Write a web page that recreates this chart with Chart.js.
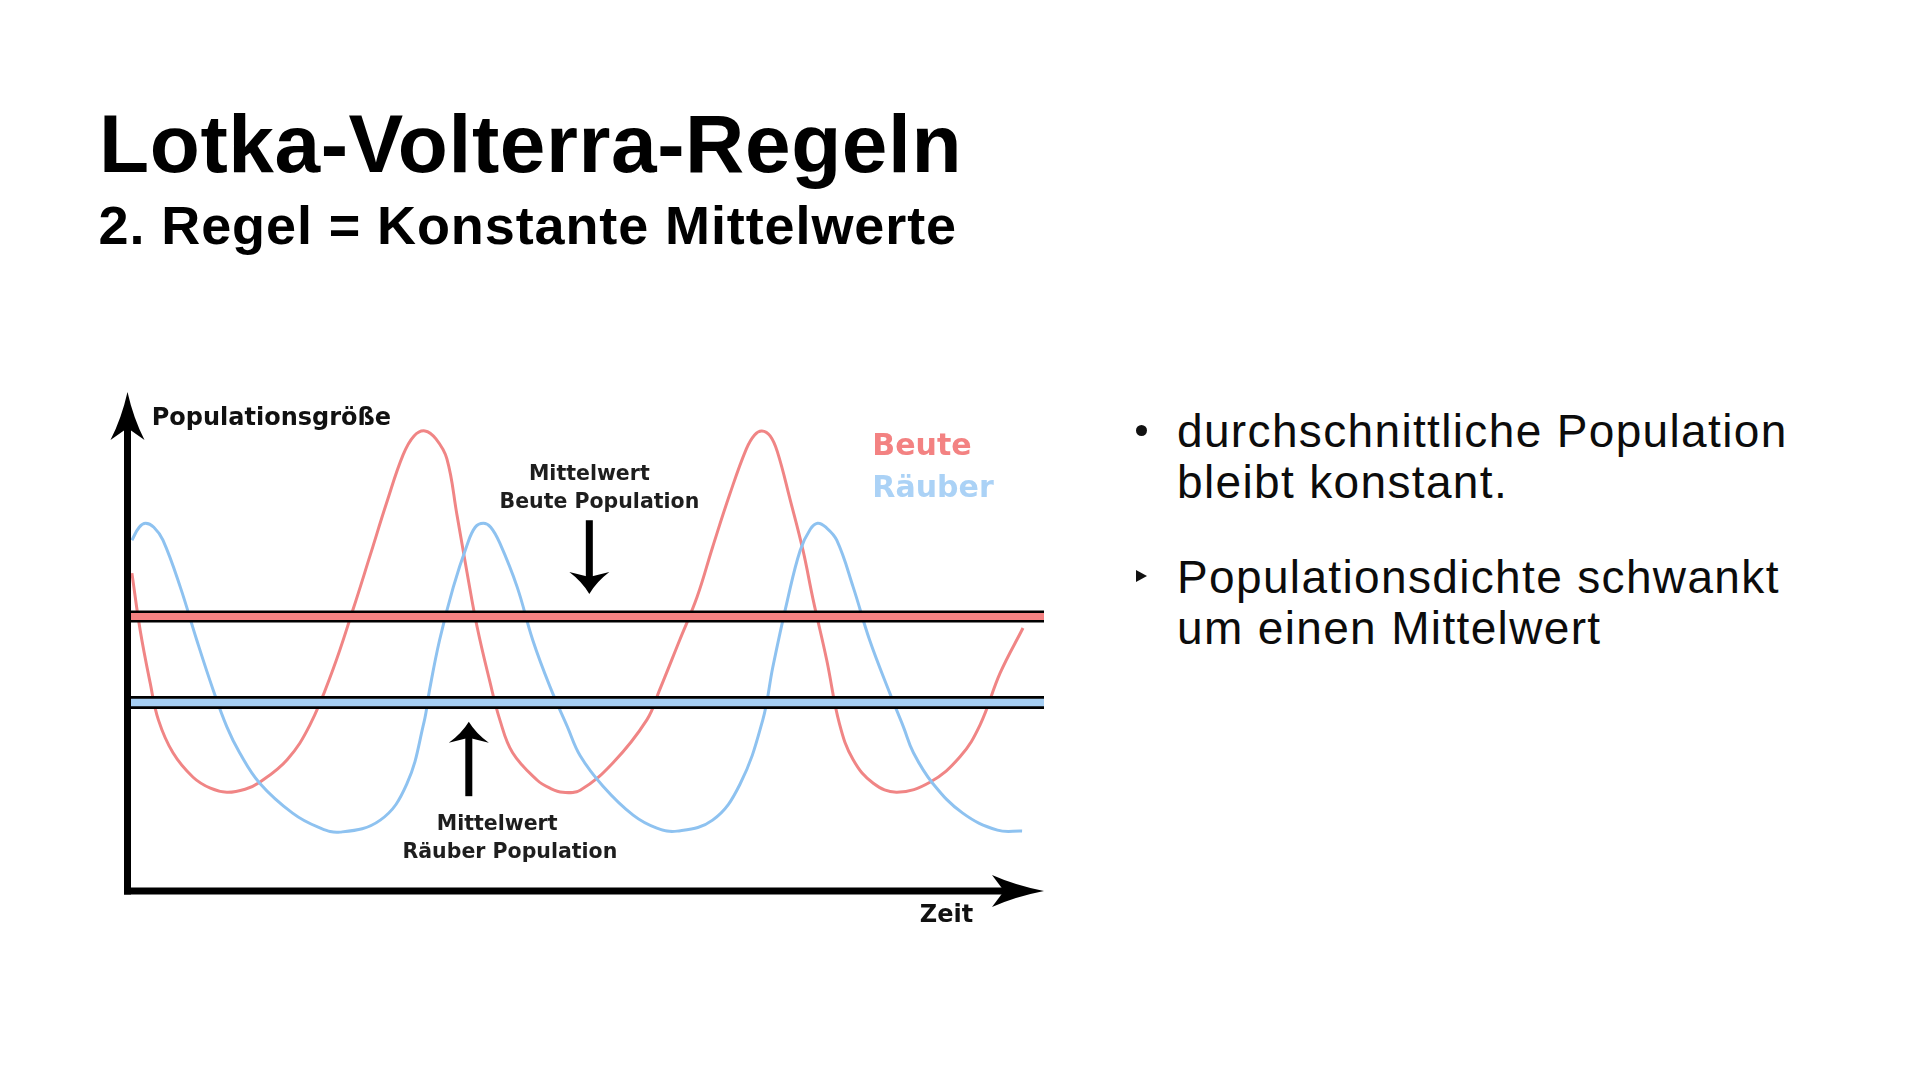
<!DOCTYPE html>
<html lang="de">
<head>
<meta charset="utf-8">
<title>Lotka-Volterra-Regeln</title>
<script src="https://cdn.jsdelivr.net/npm/chart.js@4.4.1/dist/chart.umd.min.js"></script>
<style>
  html, body { margin: 0; padding: 0; background: #ffffff; }
  body { width: 1920px; height: 1080px; position: relative; overflow: hidden; font-family: "Liberation Sans", Arial, sans-serif; color: #000; }
  .abs { position: absolute; white-space: nowrap; }
  #titel { left: 99px; top: 102.6px; font-weight: bold; font-size: 82px; line-height: 82px; letter-spacing: 0.6px; }
  #untertitel { left: 98.5px; top: 198.3px; font-weight: bold; font-size: 54px; line-height: 54px; letter-spacing: 0.9px; }
  .punkt { left: 1177px; font-size: 46px; line-height: 51px; letter-spacing: 1.35px; color: #0c0c0c; }
  #p1 { top: 405.6px; }
  #p2 { top: 551.6px; }
  #dot { left: 1135.5px; top: 424.5px; width: 11px; height: 11px; border-radius: 50%; background: #111; }
  #tri { left: 1136px; top: 570px; width: 0; height: 0; border-top: 6.5px solid transparent; border-bottom: 6.5px solid transparent; border-left: 11px solid #111; }
  #chartBox { position: absolute; left: 60px; top: 360px; width: 1020px; height: 620px; }
</style>
</head>
<body>
<div id="chartBox"><canvas id="c"></canvas></div>
<div class="abs" id="titel">Lotka-Volterra-Regeln</div>
<div class="abs" id="untertitel">2. Regel = Konstante Mittelwerte</div>
<div class="abs" id="dot"></div>
<div class="abs punkt" id="p1">durchschnittliche Population<br>bleibt konstant.</div>
<div class="abs" id="tri"></div>
<div class="abs punkt" id="p2">Populationsdichte schwankt<br>um einen Mittelwert</div>

<script>
// ---- Daten ----
const beuteZeit = [0.1, 1.0, 2.1, 3.0, 4.6, 6.8, 8.7, 10.5, 12.5, 14.1, 17.1, 19.6, 22.1, 24.3, 26.2, 28.0, 29.8, 31.0, 32.2, 33.4, 34.6, 35.7, 36.8, 37.9, 39.3, 40.4, 41.8, 44.5, 45.9, 47.3, 49.2, 52.8, 56.5, 57.9, 60.1, 62.0, 63.7, 65.6, 67.4, 68.3, 69.1, 70.0, 70.8, 72.2, 73.6, 74.7, 76.2, 77.6, 79.1, 81.3, 83.9, 87.5, 90.8, 93.0, 95.2, 97.7];
const beuteWerte = [63.7, 52.3, 41.7, 34.3, 27.7, 22.8, 20.6, 19.8, 20.4, 21.8, 26.3, 33.3, 44.3, 56.3, 67.3, 77.8, 87.4, 91.2, 92.2, 90.6, 86.6, 75.4, 63.9, 53.0, 42.0, 34.3, 27.7, 22.2, 20.6, 19.8, 20.2, 25.7, 34.3, 40.3, 50.3, 58.9, 68.9, 79.6, 88.6, 91.4, 92.2, 91.2, 88.0, 78.4, 68.3, 58.5, 46.3, 33.5, 26.3, 21.6, 19.8, 21.8, 26.9, 33.3, 43.7, 52.7];

const raeuberZeit = [0.1, 0.9, 1.6, 2.5, 3.5, 5.4, 7.2, 9.0, 10.5, 11.9, 14.1, 17.7, 20.5, 22.9, 27.3, 30.2, 32.1, 32.7, 33.8, 35.3, 36.8, 37.7, 38.6, 39.4, 40.4, 42.3, 44.0, 45.9, 47.8, 49.2, 51.7, 55.0, 57.6, 59.8, 63.7, 66.7, 69.2, 70.3, 71.9, 73.3, 74.4, 75.2, 76.1, 77.3, 79.1, 80.9, 83.1, 84.6, 85.7, 87.8, 91.1, 94.9, 97.6];
const raeuberWerte = [70.3, 72.9, 73.7, 72.9, 70.3, 60.9, 50.3, 40.3, 32.9, 27.7, 21.6, 15.6, 12.8, 11.8, 14.2, 21.4, 33.9, 40.3, 50.3, 60.9, 69.3, 72.9, 73.7, 72.9, 69.7, 60.9, 50.3, 40.9, 32.9, 27.1, 21.0, 15.2, 12.6, 12.0, 14.2, 21.4, 34.3, 44.9, 58.3, 68.3, 72.5, 73.7, 72.9, 70.3, 60.9, 50.3, 39.7, 32.9, 27.7, 21.6, 15.6, 12.2, 12.0];

const mittelBeute = 55.0;
const mittelRaeuber = 37.8;
const zeitBereich = [0, 100];
const groesseBereich = [0, 100];

const achsenTitel = { y: "Populationsgröße", x: "Zeit" };
const serienNamen = ["Beute", "Räuber"];
const mittelTexte = { beute: ["Mittelwert", "Beute Population"], raeuber: ["Mittelwert", "Räuber Population"] };

// ---- Stil ----
const farben = {
  beute: "#f08585", raeuber: "#8ec2f0",
  beuteBand: "#f48282", raeuberBand: "#a6cff4",
  beuteText: "#f38282", raeuberText: "#abd2f6",
  achse: "#000000", text: "#1e1e1e"
};

const pts = (xs, ys) => xs.map((x, i) => ({ x: x, y: ys[i] }));
const linie = (v) => [{ x: zeitBereich[0], y: v }, { x: zeitBereich[1], y: v }];

// Anmerkungen in Datenkoordinaten verankert
const anm = {
  yTitel: { t: 2.27, v: 93.4 },
  beuteLbl: { t: 81.2, v: 87.4 },
  raeuberLbl: { t: 81.2, v: 79.0 },
  mBeute1: { t: 50.2, v: 82.4 }, mBeute2: { t: 51.3, v: 76.8 },
  pfeilBeute: { t: 50.2, v0: 74.3, v1: 59.5 },
  pfeilRaeuber: { t: 37.0, v0: 19.0, v1: 33.9 },
  mRaeuber1: { t: 40.1, v: 12.2 }, mRaeuber2: { t: 41.5, v: 6.6 },
  xTitel: { t: 86.4, v: -6.2 }
};

function arrowHead(ctx, tx, ty, dx, dy, L, W, N) {
  const nx = -dy, ny = dx;
  const bx = tx - dx * L, by = ty - dy * L;
  const mx = tx - dx * (L - N), my = ty - dy * (L - N);
  ctx.beginPath();
  ctx.moveTo(tx, ty);
  ctx.quadraticCurveTo(tx - dx * L * 0.55 + nx * W * 0.35, ty - dy * L * 0.55 + ny * W * 0.35, bx + nx * W, by + ny * W);
  ctx.lineTo(mx, my);
  ctx.lineTo(bx - nx * W, by - ny * W);
  ctx.quadraticCurveTo(tx - dx * L * 0.55 - nx * W * 0.35, ty - dy * L * 0.55 - ny * W * 0.35, tx, ty);
  ctx.closePath();
  ctx.fill();
}

const deko = {
  id: "deko",
  afterDatasetsDraw(chart) {
    const ctx = chart.ctx;
    const xs = chart.scales.x, ys = chart.scales.y;
    const X = (t) => xs.getPixelForValue(t), Y = (v) => ys.getPixelForValue(v);
    const x0 = X(zeitBereich[0]), x1 = X(zeitBereich[1]);
    const y0 = Y(groesseBereich[0]), y1 = Y(groesseBereich[1]);
    const aw = 7;
    const ax = x0 - 3.5;
    ctx.save();
    ctx.fillStyle = farben.achse;
    // Achsen
    ctx.fillRect(ax - aw / 2, y1 + 30, aw, (y0 + aw / 2) - (y1 + 30));
    ctx.fillRect(ax - aw / 2, y0 - aw / 2, (x1 - 30) - (ax - aw / 2), aw);
    arrowHead(ctx, ax, y1, 0, -1, 48, 17, 12);
    arrowHead(ctx, x1, y0, 1, 0, 52, 16, 12);

    // Pfeile Mittelwerte
    const pb = anm.pfeilBeute;
    ctx.fillRect(X(pb.t) - 3.5, Y(pb.v0), 7, Y(pb.v1) - Y(pb.v0) - 14);
    arrowHead(ctx, X(pb.t), Y(pb.v1), 0, 1, 22, 20, 5);
    const pr = anm.pfeilRaeuber;
    ctx.fillRect(X(pr.t) - 3.5, Y(pr.v1) + 14, 7, Y(pr.v0) - Y(pr.v1) - 14);
    arrowHead(ctx, X(pr.t), Y(pr.v1), 0, -1, 21, 20, 5);

    // Texte
    ctx.textBaseline = "alphabetic";
    ctx.fillStyle = "#111";
    ctx.textAlign = "left";
    ctx.font = "bold 24px 'DejaVu Sans'";
    ctx.fillText(achsenTitel.y, X(anm.yTitel.t), Y(anm.yTitel.v));
    ctx.fillText(achsenTitel.x, X(anm.xTitel.t), Y(anm.xTitel.v));

    ctx.font = "bold 30px 'DejaVu Sans'";
    ctx.fillStyle = farben.beuteText;
    ctx.fillText(serienNamen[0], X(anm.beuteLbl.t), Y(anm.beuteLbl.v));
    ctx.fillStyle = farben.raeuberText;
    ctx.fillText(serienNamen[1], X(anm.raeuberLbl.t), Y(anm.raeuberLbl.v));

    ctx.font = "bold 20.5px 'DejaVu Sans'";
    ctx.fillStyle = farben.text;
    ctx.textAlign = "center";
    ctx.fillText(mittelTexte.beute[0], X(anm.mBeute1.t), Y(anm.mBeute1.v));
    ctx.fillText(mittelTexte.beute[1], X(anm.mBeute2.t), Y(anm.mBeute2.v));
    ctx.fillText(mittelTexte.raeuber[0], X(anm.mRaeuber1.t), Y(anm.mRaeuber1.v));
    ctx.fillText(mittelTexte.raeuber[1], X(anm.mRaeuber2.t), Y(anm.mRaeuber2.v));
    ctx.restore();
  }
};

const kurve = { cubicInterpolationMode: "default", tension: 0.4, pointRadius: 0, borderWidth: 3, fill: false, clip: false };

new Chart(document.getElementById("c"), {
  type: "line",
  data: {
    datasets: [
      { label: "Mittelwert Beute", data: linie(mittelBeute), borderColor: farben.beuteBand, borderWidth: 7, pointRadius: 0, tension: 0, order: 0 },
      { label: "Mittelwert Beute Rand", data: linie(mittelBeute), borderColor: farben.achse, borderWidth: 12, pointRadius: 0, tension: 0, order: 1 },
      { label: "Mittelwert Räuber", data: linie(mittelRaeuber), borderColor: farben.raeuberBand, borderWidth: 7.5, pointRadius: 0, tension: 0, order: 2 },
      { label: "Mittelwert Räuber Rand", data: linie(mittelRaeuber), borderColor: farben.achse, borderWidth: 13, pointRadius: 0, tension: 0, order: 3 },
      Object.assign({ label: serienNamen[1], data: pts(raeuberZeit, raeuberWerte), borderColor: farben.raeuber, order: 4 }, kurve),
      Object.assign({ label: serienNamen[0], data: pts(beuteZeit, beuteWerte), borderColor: farben.beute, order: 5 }, kurve)
    ]
  },
  options: {
    responsive: true,
    maintainAspectRatio: false,
    animation: false,
    events: [],
    layout: { padding: { left: 71, right: 36, top: 32, bottom: 89 } },
    scales: {
      x: { type: "linear", min: zeitBereich[0], max: zeitBereich[1], display: false },
      y: { type: "linear", min: groesseBereich[0], max: groesseBereich[1], display: false }
    },
    plugins: { legend: { display: false }, tooltip: { enabled: false } },
    elements: { line: { borderCapStyle: "butt" } }
  },
  plugins: [deko]
});
</script>
</body>
</html>
